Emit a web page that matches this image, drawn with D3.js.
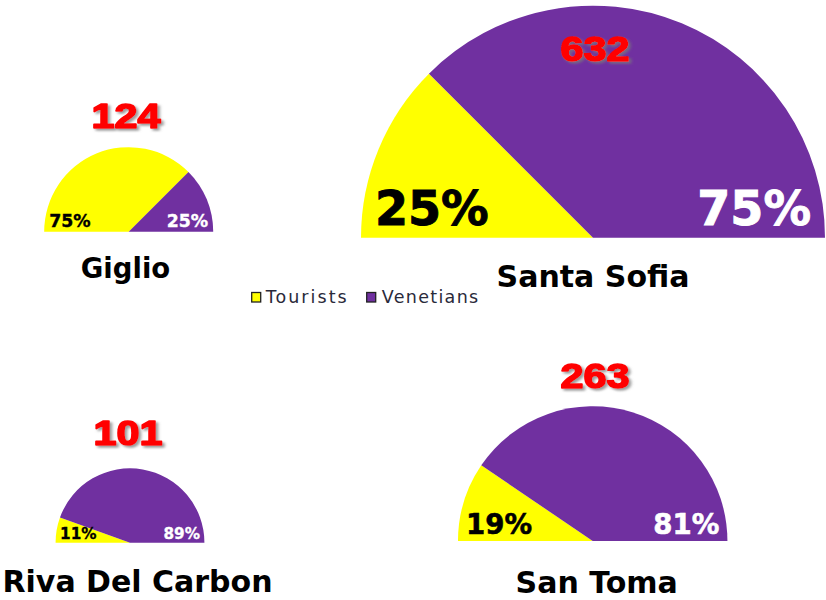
<!DOCTYPE html>
<html>
<head>
<meta charset="utf-8">
<script src="https://cdn.jsdelivr.net/npm/d3@7"></script>
<style>
  html, body { margin: 0; padding: 0; background: #fff; }
  svg { display: block; }
</style>
</head>
<body>
<svg id="chart" width="826" height="600"></svg>
<script>
// Visitors by square: total count and the tourist / Venetian split (%)
const sites = ["Giglio", "Santa Sofia", "Riva Del Carbon", "San Toma"];
const totals = [124, 632, 101, 263];
const touristsPct = [75, 25, 11, 19];
const venetiansPct = [25, 75, 89, 81];
const seriesNames = ["Tourists", "Venetians"];

// Placement of each half-pie on the page
const layout = [
  { cx: 128.7, cy: 231.7, totalX: 126, totalY: 128.3, nameX: 125.5, nameY: 278.3, nameSize: 27.5 },
  { cx: 593,   cy: 237.7, totalX: 595, totalY: 61,    nameX: 593,   nameY: 286.7, nameSize: 30 },
  { cx: 130,   cy: 542.7, totalX: 128, totalY: 445,   nameX: 137.5, nameY: 591.7, nameSize: 30 },
  { cx: 592.7, cy: 541,   totalX: 595, totalY: 387.7, nameX: 596.7, nameY: 593,   nameSize: 30 }
];

const colors = d3.scaleOrdinal().domain(seriesNames).range(["#FFFF00", "#7030A0"]);
const labelColors = d3.scaleOrdinal().domain(seriesNames).range(["#000000", "#FFFFFF"]);

// Half-pie radius grows with the total count
const radius = d3.scalePow().exponent(0.62).domain([0, d3.max(totals)]).range([0, 232]);

const svg = d3.select("#chart");

const defs = svg.append("defs");
const shadow = defs.append("filter").attr("id", "shadow")
  .attr("x", "-20%").attr("y", "-20%").attr("width", "150%").attr("height", "150%");
shadow.append("feDropShadow")
  .attr("dx", 2).attr("dy", 2).attr("stdDeviation", 1.3)
  .attr("flood-color", "#7a7a7a").attr("flood-opacity", 0.75);

const pie = d3.pie()
  .sort(null)
  .value(d => d.value)
  .startAngle(-Math.PI / 2)
  .endAngle(Math.PI / 2);

sites.forEach((site, i) => {
  const L = layout[i];
  const r = radius(totals[i]);
  const parts = [
    { series: "Tourists", value: touristsPct[i] },
    { series: "Venetians", value: venetiansPct[i] }
  ];
  const arc = d3.arc().innerRadius(0).outerRadius(r);

  const g = svg.append("g").attr("transform", `translate(${L.cx},${L.cy})`);

  g.selectAll("path.slice")
    .data(pie(parts))
    .join("path")
    .attr("class", "slice")
    .attr("d", arc)
    .attr("fill", d => colors(d.data.series));

  // Percentage labels sit along the baseline, inside each end of the half-pie
  const fs = 0.205 * r;
  const inset = 0.06 * r;
  const lift = 0.055 * r;
  g.selectAll("text.pct")
    .data(parts)
    .join("text")
    .attr("class", "pct")
    .attr("x", (d, j) => j === 0 ? -r + inset : r - inset)
    .attr("y", -lift)
    .attr("text-anchor", (d, j) => j === 0 ? "start" : "end")
    .attr("font-family", "'DejaVu Sans', Verdana, sans-serif")
    .attr("font-weight", "bold")
    .attr("font-size", fs)
    .attr("fill", d => labelColors(d.series))
    .attr("stroke", d => labelColors(d.series))
    .attr("stroke-width", fs * 0.02)
    .text(d => d.value + "%");

  // Total count in red
  svg.append("g")
    .attr("transform", `translate(${L.totalX},${L.totalY}) scale(1.2,1)`)
    .append("text")
    .attr("text-anchor", "middle")
    .attr("font-family", "'Liberation Sans', Arial, sans-serif")
    .attr("font-weight", "bold")
    .attr("font-size", 34.5)
    .attr("fill", "#FF0000")
    .attr("stroke", "#FF0000")
    .attr("stroke-width", 1.6)
    .attr("stroke-linejoin", "round")
    .attr("filter", "url(#shadow)")
    .text(totals[i]);

  // Square name
  svg.append("text")
    .attr("x", L.nameX)
    .attr("y", L.nameY)
    .attr("text-anchor", "middle")
    .attr("font-family", "'DejaVu Sans', Verdana, sans-serif")
    .attr("font-weight", "bold")
    .attr("font-size", L.nameSize)
    .attr("fill", "#000")
    .text(site);
});

// Legend
const legendItems = [
  { name: "Tourists", boxX: 251.7, textX: 265.7, len: 81 },
  { name: "Venetians", boxX: 366.7, textX: 381.7, len: 96.5 }
];
const legend = svg.append("g").attr("class", "legend");
legend.selectAll("rect")
  .data(legendItems)
  .join("rect")
  .attr("x", d => d.boxX)
  .attr("y", 292.5)
  .attr("width", 9)
  .attr("height", 9.5)
  .attr("fill", d => colors(d.name))
  .attr("stroke", "#222")
  .attr("stroke-width", 1.3);
legend.selectAll("text")
  .data(legendItems)
  .join("text")
  .attr("x", d => d.textX)
  .attr("y", 303.3)
  .attr("font-family", "'DejaVu Sans', Verdana, sans-serif")
  .attr("font-size", 17.5)
  .attr("fill", "#2a2a3a")
  .attr("textLength", d => d.len)
  .attr("lengthAdjust", "spacing")
  .text(d => d.name);
</script>
</body>
</html>
